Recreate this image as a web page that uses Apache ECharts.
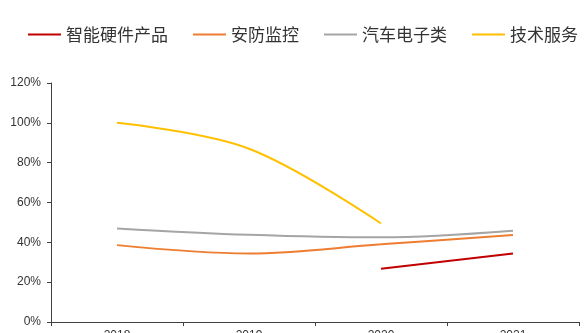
<!DOCTYPE html>
<html>
<head>
<meta charset="utf-8">
<script src="https://cdn.jsdelivr.net/npm/echarts@6/dist/echarts.min.js"></script>
<style>
html,body{margin:0;padding:0;background:#fff;}
#main{width:585px;height:333px;}
</style>
</head>
<body>
<div id="main"></div>
<script>
const categories = ['2018', '2019', '2020', '2021'];
const seriesNames = ['智能硬件产品', '安防监控', '汽车电子类', '技术服务'];
const smartHardware = [null, null, 26.7, 34.4];
const securityMonitor = [38.6, 34.4, 39.0, 43.7];
const autoElectronics = [47.0, 43.8, 42.5, 45.8];
const techService = [100, 87, 49.5, null];
const yTicks = { min: 0, max: 120, interval: 20 };

const colors = ['#C00000', '#ED7D31', '#A5A5A5', '#FFC000'];
const dataSets = [smartHardware, securityMonitor, autoElectronics, techService];

const chart = echarts.init(document.getElementById('main'));
chart.setOption({
  animation: false,
  color: colors,
  legend: {
    left: 23,
    top: 21,
    itemWidth: 33,
    itemHeight: 2,
    itemGap: 25,
    icon: 'rect',
    textStyle: { fontFamily: '"Noto Sans CJK SC"', fontSize: 17, color: '#333' },
    data: seriesNames
  },
  grid: { left: 51, right: 6, top: 83, bottom: 11, containLabel: false, outerBoundsMode: 'none' },
  xAxis: {
    type: 'category',
    data: categories,
    boundaryGap: true,
    axisLine: { lineStyle: { color: '#404040', width: 1 } },
    axisTick: { show: true, length: 4, lineStyle: { color: '#404040' } },
    axisLabel: { color: '#333', fontFamily: 'Liberation Sans', fontSize: 12, margin: 8 }
  },
  yAxis: {
    type: 'value',
    min: yTicks.min,
    max: yTicks.max,
    interval: yTicks.interval,
    splitLine: { show: false },
    axisLine: { show: true, lineStyle: { color: '#404040', width: 1 } },
    axisTick: { show: true, length: 4, lineStyle: { color: '#404040' } },
    axisLabel: { formatter: '{value}%', color: '#333', fontFamily: 'Liberation Sans', fontSize: 12, margin: 10 }
  },
  series: seriesNames.map((name, i) => ({
    name: name,
    type: 'line',
    smooth: 0.35,
    symbol: 'none',
    connectNulls: false,
    data: dataSets[i],
    lineStyle: { width: 2, color: colors[i] },
    itemStyle: { color: colors[i] }
  }))
});
</script>
</body>
</html>
